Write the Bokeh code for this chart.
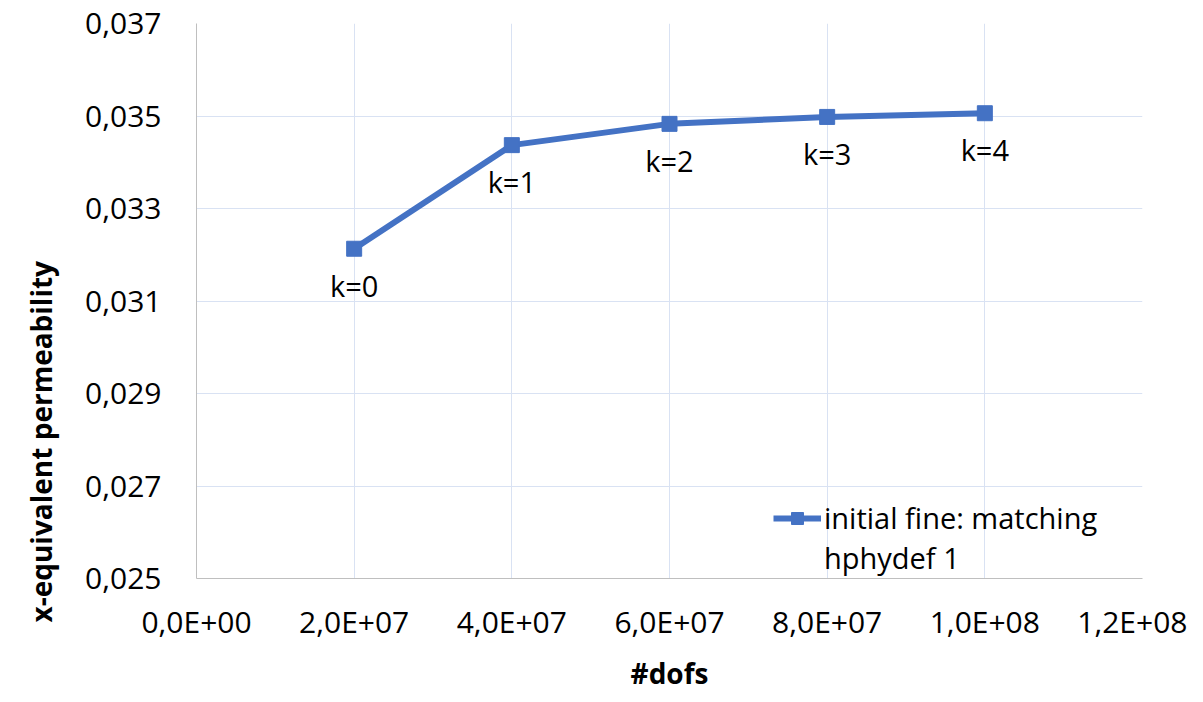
from bokeh.plotting import figure
from bokeh.models import (ColumnDataSource, FixedTicker, CustomJSTickFormatter, Range1d,
                          Legend, LegendItem, LabelSet, Title)
from bokeh.core.properties import value
from bokeh.embed import file_html
from bokeh.resources import INLINE

# ---- data ----
dofs = [2.0e7, 4.0e7, 6.0e7, 8.0e7, 1.0e8]
perm = [0.03213, 0.03437, 0.03483, 0.03498, 0.03506]
k_labels = ["k=0", "k=1", "k=2", "k=3", "k=4"]
series_line1 = "initial fine: matching"
series_line2 = "hphydef 1"
x_ticks = [0, 2e7, 4e7, 6e7, 8e7, 1e8, 1.2e8]
y_ticks = [0.025, 0.027, 0.029, 0.031, 0.033, 0.035, 0.037]
x_title = "#dofs"
y_title = "x-equivalent permeability"

BLUE = "#4472C4"
FONT = "Open Sans"

src = ColumnDataSource(dict(x=dofs, y=perm, lab=k_labels))

p = figure(width=1187, height=694, output_backend="svg", toolbar_location=None,
           x_range=Range1d(0, 1.2e8), y_range=Range1d(0.025, 0.037),
           min_border_left=195, min_border_right=45, min_border_top=23, min_border_bottom=99)
p.outline_line_color = None
p.background_fill_color = "white"
p.border_fill_color = "white"

line = p.line("x", "y", source=src, line_color=BLUE, line_width=6)
mk = p.scatter("x", "y", source=src, marker="square", size=15, fill_color=BLUE, line_color=BLUE)
# empty, invisible renderer used only for the second legend line
blank = p.scatter(x=[], y=[], marker="square", size=1, fill_alpha=0, line_alpha=0)

labels = LabelSet(x="x", y="y", text="lab", source=src, text_align="center", text_baseline="top",
                  y_offset=-17, text_font=value(FONT), text_font_size="29px", text_color="#000000")
p.add_layout(labels)

# axes
p.xaxis.ticker = FixedTicker(ticks=x_ticks)
p.yaxis.ticker = FixedTicker(ticks=y_ticks)
p.yaxis.formatter = CustomJSTickFormatter(code="return tick.toFixed(3).replace('.', ',');")
p.xaxis.formatter = CustomJSTickFormatter(code="""
const s = tick.toExponential(1);
const parts = s.split('e');
const m = parts[0].replace('.', ',');
let e = parts[1];
const sign = e[0];
let d = e.slice(1);
if (d.length < 2) d = '0' + d;
return m + 'E' + sign + d;
""")
for ax in (p.xaxis[0], p.yaxis[0]):
    ax.axis_line_color = "#bfbfbf"
    ax.axis_line_width = 1
    ax.major_tick_line_color = None
    ax.minor_tick_line_color = None
    ax.major_tick_out = 0
    ax.major_tick_in = 0
    ax.minor_tick_out = 0
    ax.minor_tick_in = 0
    ax.major_label_text_font = FONT
    ax.major_label_text_font_size = "30px"
    ax.major_label_text_color = "#000000"
    ax.axis_label_text_font = FONT
    ax.axis_label_text_font_style = "bold"
    ax.axis_label_text_font_size = "28px"
    ax.axis_label_text_color = "#000000"

p.xaxis.axis_label = x_title
p.yaxis.major_label_standoff = 35
p.xaxis.major_label_standoff = 22
p.xaxis.axis_label_standoff = 9

p.xgrid.grid_line_color = "#d9e2f3"
p.ygrid.grid_line_color = "#d9e2f3"

# y-axis title, starting a little below the frame bottom as in the reference
ytitle = Title(text=y_title, align="left", offset=-44, standoff=42, vertical_align="top",
               text_font=FONT, text_font_size="28px", text_font_style="bold",
               text_color="#000000")
p.add_layout(ytitle, "left")

legend = Legend(items=[LegendItem(label=series_line1, renderers=[line, mk]),
                       LegendItem(label=series_line2, renderers=[blank])],
                location=(577, 1), orientation="vertical")
legend.background_fill_alpha = 0
legend.border_line_color = None
legend.label_text_font = FONT
legend.label_text_font_size = "29px"
legend.label_text_color = "#000000"
legend.glyph_width = 48
legend.glyph_height = 30
legend.label_standoff = 3
legend.padding = 0
legend.margin = 0
legend.spacing = 1
legend.label_height = 30
p.add_layout(legend, "center")

open("out.html", "w").write(file_html(p, INLINE))
